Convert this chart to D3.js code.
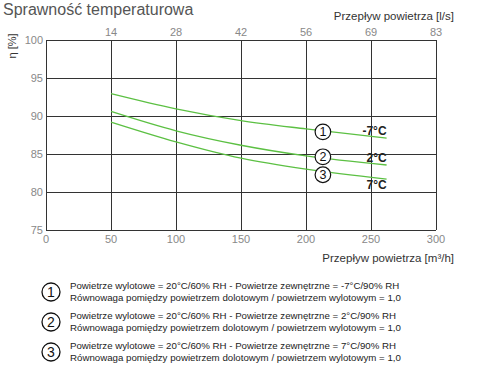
<!DOCTYPE html>
<html>
<head>
<meta charset="utf-8">
<script src="https://cdn.jsdelivr.net/npm/d3@7"></script>
<style>
  body { margin: 0; background: #fff; }
  text { font-family: "Liberation Sans", "DejaVu Sans", sans-serif; }
</style>
</head>
<body>
<div id="chart"></div>
<script>
// Dane
const flowM3h = [50, 100, 150, 200, 262];
const curve1 = [92.95, 90.95, 89.4, 88.3, 87.1];   // -7°C
const curve2 = [90.6, 88.05, 86.15, 84.75, 83.55]; // 2°C
const curve3 = [89.2, 86.6, 84.45, 83.0, 81.7];    // 7°C
const curveLabels = ["-7°C", "2°C", "7°C"];
const xTicks = [0, 50, 100, 150, 200, 250, 300];
const topTicks = ["", "14", "28", "42", "56", "69", "83"];
const yTicks = [75, 80, 85, 90, 95, 100];
const legendLines = [
  ["Powietrze wylotowe = 20°C/60% RH - Powietrze zewnętrzne = -7°C/90% RH",
   "Równowaga pomiędzy powietrzem dolotowym / powietrzem wylotowym = 1,0"],
  ["Powietrze wylotowe = 20°C/60% RH - Powietrze zewnętrzne = 2°C/90% RH",
   "Równowaga pomiędzy powietrzem dolotowym / powietrzem wylotowym = 1,0"],
  ["Powietrze wylotowe = 20°C/60% RH - Powietrze zewnętrzne = 7°C/90% RH",
   "Równowaga pomiędzy powietrzem dolotowym / powietrzem wylotowym = 1,0"]
];

const width = 480, height = 380;
const margin = { top: 40, left: 46, right: 44, bottom: 150 };

const svg = d3.select("#chart").append("svg")
  .attr("width", width)
  .attr("height", height);

const x = d3.scaleLinear().domain([0, 300]).range([margin.left, width - margin.right]);
const y = d3.scaleLinear().domain([75, 100]).range([height - margin.bottom, margin.top]);

// Tytul
svg.append("text")
  .attr("x", 3).attr("y", 15)
  .style("font-size", "16px")
  .style("fill", "#555")
  .text("Sprawność temperaturowa");

// Siatka
const grid = svg.append("g").attr("stroke", "#333").attr("stroke-width", 1);
grid.selectAll(".vline").data(xTicks).enter().append("line")
  .attr("x1", d => Math.round(x(d)) + 0.5).attr("x2", d => Math.round(x(d)) + 0.5)
  .attr("y1", y(100)).attr("y2", y(75));
grid.selectAll(".hline").data(yTicks).enter().append("line")
  .attr("x1", x(0)).attr("x2", x(300))
  .attr("y1", d => Math.round(y(d)) + 0.5).attr("y2", d => Math.round(y(d)) + 0.5);

// Etykiety osi
svg.selectAll(".ylab").data(yTicks).enter().append("text")
  .attr("x", x(0) - 3).attr("y", d => y(d) + 4)
  .attr("text-anchor", "end")
  .style("font-size", "11px").style("fill", "#888")
  .text(d => d);

svg.selectAll(".xlab").data(xTicks).enter().append("text")
  .attr("x", d => x(d)).attr("y", y(75) + 13)
  .attr("text-anchor", "middle")
  .style("font-size", "11px").style("fill", "#888")
  .text(d => d);

svg.selectAll(".toplab").data(topTicks).enter().append("text")
  .attr("x", (d, i) => x(xTicks[i])).attr("y", y(100) - 4)
  .attr("text-anchor", "middle")
  .style("font-size", "11px").style("fill", "#888")
  .text(d => d);

svg.append("text")
  .attr("x", 454).attr("y", 20)
  .attr("text-anchor", "end")
  .style("font-size", "11.5px").style("fill", "#333")
  .text("Przepływ powietrza [l/s]");

svg.append("text")
  .attr("x", 454).attr("y", 262)
  .attr("text-anchor", "end")
  .style("font-size", "11.5px").style("fill", "#333")
  .text("Przepływ powietrza [m³/h]");

svg.append("text")
  .attr("transform", "translate(16,46) rotate(-90)")
  .attr("text-anchor", "middle")
  .style("font-size", "11px").style("fill", "#333")
  .text("η [%]");

// Krzywe
const curves = [curve1, curve2, curve3];
const line = d3.line()
  .x((d, i) => x(flowM3h[i]))
  .y(d => y(d))
  .curve(d3.curveMonotoneX);

svg.selectAll(".curve").data(curves).enter().append("path")
  .attr("d", d => line(d))
  .attr("fill", "none")
  .attr("stroke", "#5cc043")
  .attr("stroke-width", 1.3);

// Numery w kolkach na wykresie
const markerX = 213;
const markerShift = [1, -1, 3.5];
const interp = c => d3.scaleLinear().domain(flowM3h).range(c)(markerX);
curves.forEach((c, i) => {
  const g = svg.append("g")
    .attr("transform", "translate(" + x(markerX) + "," + (y(interp(c)) + markerShift[i]) + ")");
  g.append("circle").attr("r", 7.8).attr("fill", "#fff").attr("stroke", "#111").attr("stroke-width", 1.2);
  g.append("text").attr("y", 4.5).attr("text-anchor", "middle")
    .style("font-size", "12.5px").style("fill", "#111").text(i + 1);
});

// Etykiety temperatur
svg.selectAll(".clab").data(curves).enter().append("text")
  .attr("x", x(262)).attr("y", (d, i) => y(d[4]) + (i === 2 ? 10 : -3))
  .attr("text-anchor", "end")
  .style("font-size", "12px").style("font-weight", "bold").style("fill", "#222")
  .text((d, i) => curveLabels[i]);

// Legenda
const leg = svg.selectAll(".leg").data(legendLines).enter().append("g")
  .attr("transform", (d, i) => "translate(0," + (292 + i * 30) + ")");
leg.append("circle").attr("cx", 51).attr("r", 9)
  .attr("fill", "#fff").attr("stroke", "#111").attr("stroke-width", 1.3);
leg.append("text").attr("x", 51).attr("y", 5).attr("text-anchor", "middle")
  .style("font-size", "14px").style("fill", "#111").text((d, i) => i + 1);
leg.append("text").attr("x", 70).attr("y", -3)
  .style("font-size", "9.7px").style("fill", "#222").text(d => d[0]);
leg.append("text").attr("x", 70).attr("y", 9)
  .style("font-size", "9.7px").style("fill", "#222").text(d => d[1]);
</script>
</body>
</html>
